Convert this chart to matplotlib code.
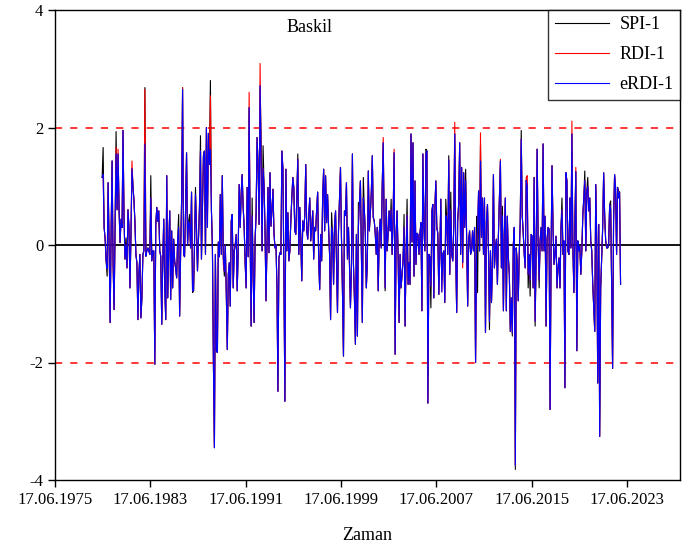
import numpy as np
import pandas as pd
import matplotlib
matplotlib.use("Agg")
import matplotlib.pyplot as plt
import matplotlib.dates as mdates
from datetime import datetime

plt.rcParams["font.family"] = ["Liberation Serif", "DejaVu Serif"]
plt.rcParams["axes.unicode_minus"] = False

# eRDI-1 monthly values (Baskil station)
erdi = [
    1.15, 1.2, 0.3, 0.1, -0.27, -0.4, 1.06, 0.0, -1.32, 0.2,
    1.43, -0.3, -1.1, 0.3, 1.55, 0.6, 1.55, 0.6, 0.04, 0.44,
    0.3, 1.95, 0.5, -0.24, 0.0, -0.39, 0.6, 0.3, -0.73, 0.2,
    1.3, 1.0, 0.75, 0.4, -0.16, -0.3, -1.27, -0.5, -0.16, -1.24,
    -0.9, -0.16, -0.1, 1.72, -0.19, -0.1, -0.05, -0.1, -0.16, 0.8,
    -0.27, -0.1, -0.1, -2.03, 0.35, 0.64, 0.4, 0.58, -0.1, -0.19,
    -1.35, -0.3, 0.44, -0.73, -1.27, 1.18, -0.9, 0.0, 0.58, -0.93,
    0.24, -0.73, 0.1, -0.27, -0.4, -0.56, 0.1, 0.3, -1.21, -0.1,
    0.8, 2.65, -0.16, -0.2, 0.6, 1.57, 0.0, 0.4, 0.35, -0.05,
    0.9, -0.78, -0.78, 0.0, 0.86, 0.3, -0.44, 0.1, 0.64, 1.6,
    -0.24, 0.7, 1.52, 1.6, -0.16, 2.0, 0.3, 1.9, 1.37, 1.63,
    0.6, -0.05, -1.98, -3.45, -0.16, -1.8, -1.83, 0.05, -0.2, 0.86,
    -0.16, 1.18, -0.2, -0.45, 0.0, -0.84, -1.78, -0.5, -0.3, -1.04,
    0.41, 0.52, -0.73, -0.1, 0.0, 0.18, -0.78, -0.05, 1.03, 0.3,
    0.9, 1.2, 0.64, 0.32, -0.3, -0.73, 0.98, -0.2, 2.34, 0.1,
    -1.38, 0.5, -0.5, -1.32, 0.1, 0.5, 1.83, 1.37, 0.35, 2.71,
    1.4, -0.1, 1.3, 1.0, 0.2, -0.95, 0.05, 0.98, -0.13, 1.23,
    0.32, 0.6, 0.95, 0.2, -0.05, 0.0, -0.73, -2.49, -0.22, -0.13,
    -0.16, 1.6, 1.3, -0.5, -2.66, 1.29, -0.1, 0.55, -0.27, -0.1,
    0.41, 0.8, 1.15, 0.98, 0.24, 0.18, 0.8, 1.46, -0.16, 0.64,
    0.1, -0.61, 0.41, 0.24, 0.5, 1.37, 0.24, 0.1, 0.5, 0.8,
    0.07, 0.3, 0.58, -0.24, 0.3, 0.24, 0.6, 0.9, -0.2, -0.76,
    0.18, -0.27, 0.8, 1.29, 0.24, 1.18, 0.38, 0.86, 0.3, -0.16,
    -1.27, 0.3, 0.2, -0.67, 0.35, 0.58, -0.3, -1.15, 0.24, 0.8,
    1.32, 0.13, -0.8, -1.89, 0.58, 0.5, 1.06, -0.24, 0.3, -0.3,
    -1.07, -0.4, 1.55, -0.3, -0.9, -1.69, 0.18, -1.55, 0.3, 0.7,
    1.09, 0.0, -1.32, 0.8, 0.6, 0.2, -0.73, -0.3, 1.26, 0.24,
    0.52, 0.9, 1.52, 0.47, 0.41, 0.2, -0.16, 0.3, -0.78, 0.2,
    0.44, -0.05, 1.0, 1.74, 0.2, -0.73, 0.78, -0.1, 0.2, 0.58,
    0.24, 0.6, -0.16, 0.5, 1.57, -1.86, 0.2, 0.58, -0.16, -1.32,
    -0.16, -0.73, -0.5, -0.24, 0.3, -1.38, -0.16, 0.5, -0.67, -0.3,
    -0.67, 1.89, 0.05, 1.74, -0.53, 1.09, -0.33, 0.2, 0.18, -0.16,
    0.2, 0.38, -1.12, 1.55, 0.3, -0.1, 1.55, 1.6, -2.69, -0.16,
    -0.2, -0.7, 0.58, 0.69, -0.9, 0.58, 1.09, 0.3, 0.2, -0.84,
    -0.16, 0.78, -0.8, -0.16, -0.1, -0.98, 0.5, 0.41, -0.16, 1.45,
    -0.5, 0.6, -0.16, -0.27, 0.3, 1.89, -0.16, -1.15, 0.4, 0.7,
    1.74, -0.16, 1.32, -0.3, 1.23, 0.3, 1.1, 0.1, -1.04, 0.07,
    0.24, -0.16, -0.1, 0.24, -0.1, 0.3, -2.0, -0.1, 0.3, 0.92,
    -0.1, 1.43, 0.13, 0.8, -0.16, 0.8, -1.49, 0.4, 0.69, -0.1,
    -1.3, -0.1, -0.98, -0.33, 1.2, -0.39, -0.05, 0.1, -0.67, 0.18,
    0.8, 1.43, -0.39, 0.5, -1.12, 0.18, 0.8, -1.12, 0.49, -0.2,
    -0.5, -1.47, -0.9, -1.5, 0.0, 0.3, -3.75, -0.05, -0.3, -0.95,
    -0.16, 0.4, 1.8, 0.5, 0.2, -0.16, -0.39, 1.1, 1.0, -0.5,
    -0.16, -0.6, 0.18, 0.15, -0.73, 1.15, -1.3, -0.16, 1.63, 0.07,
    -0.6, 0.07, 0.3, -0.1, 1.72, -0.1, 0.49, -1.38, 0.1, 0.3,
    0.27, -2.8, -0.1, 1.35, 0.3, -0.33, -0.16, 0.15, -0.73, -0.39,
    -0.22, -0.73, 0.3, 0.6, -0.16, 0.07, -2.43, 1.23, 1.09, -0.1,
    -0.16, 0.8, -0.05, 1.89, -0.05, -0.81, 0.3, 1.25, -1.8, 0.07,
    -0.1, -0.02, -0.5, -0.1, 0.5, 0.8, 1.1, -0.1, 0.92, 1.0,
    0.58, 0.8, 0.07, -0.1, -0.67, -1.07, -1.47, 1.03, 0.1, -2.35,
    0.35, -3.26, -0.73, -0.2, 0.3, 1.23, 0.5, 0.07, -0.05, -0.05,
    0.0, 0.69, 0.6, -0.6, -2.1, 0.41, 1.2, 0.98, -0.16, 0.98,
    0.8, 0.9, -0.67,
]

# months where SPI-1 departs from eRDI-1
spi_idx = [1, 5, 14, 21, 24, 43, 49, 77, 81, 88, 91, 94, 99, 106, 109,
           123, 151, 160, 162, 184, 197, 231, 258, 263, 285, 291, 304,
           307, 326, 331, 342, 346, 349, 351, 366, 377, 378, 381, 390,
           403, 413, 416, 422, 429, 431, 436, 440, 463, 476, 486, 489,
           512, 520]
spi_val = [1.66, -0.53, 1.93, 1.95, 0.12, 2.68, 1.18, 0.52, 2.68, 0.52,
           -0.81, 0.98, 1.86, 0.49, 2.8, -0.53, 0.8, 1.86, 1.69, -2.66,
           1.55, 0.55, 0.72, 1.15, -0.78, 0.78, 0.52, 0.78, 1.63, -1.07,
           -0.61, 0.78, 1.52, 0.9, 1.29, 0.49, -0.81, 1.7, -1.44, 0.66,
           -1.55, -3.82, 1.95, -0.73, -0.87, -1.38, -0.73, 0.8, 0.52,
           1.26, 1.15, 0.75, 0.92]

# months where RDI-1 departs from eRDI-1
rdi_idx = [14, 16, 30, 43, 81, 109, 122, 148, 159, 283, 294, 355, 363,
           381, 401, 427, 428, 473, 477]
rdi_val = [1.66, 1.63, 1.43, 2.65, 2.68, 2.54, -0.33, 2.6, 3.09, 1.83,
           1.63, 2.09, -0.39, 1.91, 1.46, 1.15, 1.18, 2.11, 1.32]

spi = np.array(erdi, dtype=float)
spi[spi_idx] = spi_val
rdi = np.array(erdi, dtype=float)
rdi[rdi_idx] = rdi_val

dates = pd.date_range("1979-06-01", periods=len(erdi), freq="MS")

fig = plt.figure(figsize=(6.88, 5.54), dpi=100)
ax = fig.add_axes([55 / 688, 74 / 554, 625 / 688, 470 / 554])

ax.plot(dates, spi, color="black", lw=0.8, label="SPI-1")
ax.plot(dates, rdi, color="red", lw=0.8, label="RDI-1")
ax.plot(dates, erdi, color="blue", lw=0.8, label="eRDI-1")

ax.axhline(0, color="black", lw=1.3, zorder=1)
for lvl in (2, -2):
    ax.axhline(lvl, color="red", lw=1.1, ls=(0, (4.7, 5.3)), zorder=1)

ax.set_xlim(mdates.date2num(datetime(1975, 6, 17)),
            mdates.date2num(datetime(2027, 11, 27)))
ax.set_ylim(-4, 4)

xticks = [datetime(y, 6, 17) for y in range(1975, 2024, 8)]
ax.set_xticks(mdates.date2num(xticks))
ax.xaxis.set_major_formatter(mdates.DateFormatter("%d.%m.%Y"))
ax.set_yticks([-4, -2, 0, 2, 4])
ax.tick_params(axis="both", labelsize=12, direction="out", length=5, width=1)

for sp in ax.spines.values():
    sp.set_linewidth(1.0)

ax.text(0.408, 0.962, "Baskil", transform=ax.transAxes, ha="center",
        va="center", fontsize=13)
ax.set_xlabel("Zaman", fontsize=13, labelpad=14)

leg = ax.legend(loc="upper right", fontsize=13, frameon=True, fancybox=False,
                edgecolor="black", borderaxespad=0.0, handlelength=3.0,
                labelspacing=0.72, borderpad=0.35, handletextpad=0.6)
leg.get_frame().set_linewidth(1.0)

fig.savefig("out.png", dpi=100)
